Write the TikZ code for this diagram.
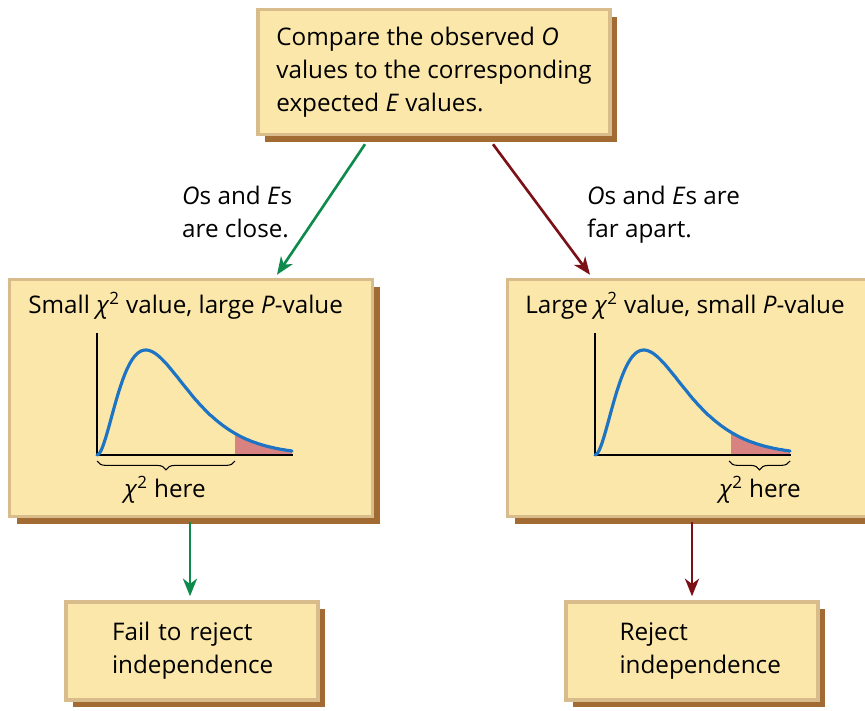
\documentclass[tikz,border=0pt]{standalone}
\usepackage{fontspec}
\setmainfont{Open Sans}
\usetikzlibrary{arrows.meta,positioning,calc,shadows,decorations.pathreplacing}
\definecolor{boxfill}{HTML}{FBE7A9}
\definecolor{boxedge}{HTML}{D8BC8C}
\definecolor{boxshade}{HTML}{A26B33}
\definecolor{closegreen}{HTML}{0E8A4C}
\definecolor{fardred}{HTML}{7B1016}
\definecolor{curveblue}{HTML}{1E74C4}
\definecolor{tailpink}{HTML}{D98282}

\begin{document}
\begin{tikzpicture}[x=0.02cm,y=-0.02cm,
 card/.style={draw=boxedge,line width=2pt,fill=boxfill,
   drop shadow={shadow xshift=4.2pt,shadow yshift=-4.2pt,fill=boxshade,opacity=1}},
 txt/.style={align=left,font=\fontsize{13.8}{18.7}\selectfont},
 go/.style={closegreen,line width=1.5pt,-{Stealth[length=10pt,width=8pt,inset=3pt]}},
 nogo/.style={fardred,line width=1.5pt,-{Stealth[length=10pt,width=8pt,inset=3pt]}},
 curlybrace/.style={decorate,decoration={brace,mirror,amplitude=5pt},line width=0.6pt}]
\useasboundingbox (0,0) rectangle (865,710);

% boxes
\node[card,txt,minimum width=7.04cm,minimum height=2.5cm] (compare) at (434,72)
 {Compare the observed \textit{O}\\values to the corresponding\\expected \textit{E} values.};
\node[card,minimum width=7.26cm,minimum height=4.74cm] (small) at (191,398) {};
\node[card,minimum width=7.26cm,minimum height=4.74cm] (large) at (689,398) {};
\node[card,txt,text width=3.2cm,minimum width=5.04cm,minimum height=1.96cm] (keep) at (192,651)
 {Fail to reject\\independence};
\node[card,txt,text width=3.6cm,minimum width=5.04cm,minimum height=1.96cm] (reject) at (692,651)
 {\hspace*{0.35cm}Reject\\\hspace*{0.35cm}\mbox{independence}};

% titles
\node[txt,anchor=west,inner sep=0pt] (smalltitle) at (28,306) {Small \textit{χ}\textsuperscript{2} value, large \textit{P}-value};
\node[txt,anchor=west,inner sep=0pt] (largetitle) at (525,306) {Large \textit{χ}\textsuperscript{2} value, small \textit{P}-value};

% chi-square curves
\foreach \px/\cut in {97/138,595/136}{
\begin{scope}[shift={(\px,455)}]
 \fill[tailpink] (\cut,0) -- plot[domain=\cut:195,samples=20] (\x,{-105*(\x/24.375)^2*exp(-\x/24.375)/0.5413}) -- (195,0) -- cycle;
 \draw[line width=0.8pt] (0,-122) -- (0,0) -- (196,0);
 \draw[curveblue,line width=1.8pt,line cap=round] plot[domain=0:195,samples=100,smooth] (\x,{-105*(\x/24.375)^2*exp(-\x/24.375)/0.5413});
\end{scope}
}
\draw[curlybrace] (97,461) -- (235,461);
\draw[curlybrace] (729,461) -- (790,461);
\node[txt] (smallhere) at (165,490) {\textit{χ}\textsuperscript{2} here};
\node[txt] (largehere) at (760,490) {\textit{χ}\textsuperscript{2} here};

% connectors
\draw[go] ($(compare.south)+(-69,8)$) -- ($(small.north)+(86,-3)$);
\draw[nogo] ($(compare.south)+(59,8)$) -- ($(large.north)+(-99,-3)$);
\draw[go] ($(small.south)+(-1,4)$) -- ($(keep.north)+(-2,-4)$);
\draw[nogo] ($(large.south)+(3,4)$) -- ($(reject.north)+(0,-4)$);
\node[txt,anchor=north west] (closelbl) at (176,180) {\textit{O}s and \textit{E}s\\are close.};
\node[txt,anchor=north west] (farlbl) at (581,180) {\textit{O}s and \textit{E}s are\\far apart.};
\end{tikzpicture}
\end{document}
